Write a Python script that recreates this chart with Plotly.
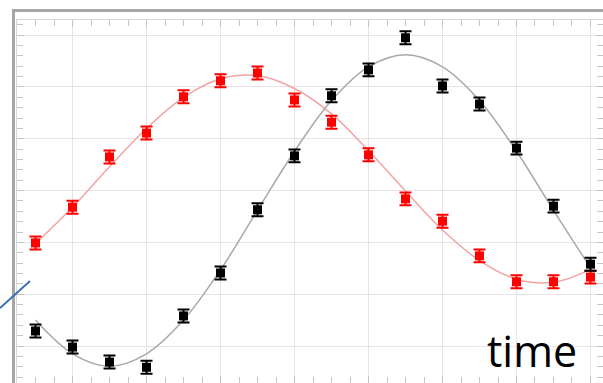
import plotly.graph_objects as go

# ---- data ----
t = list(range(1, 17))
black_vals = [0.29, -0.02, -0.31, -0.41, 0.58, 1.41, 2.63, 3.67, 4.83, 5.33, 5.95, 5.02, 4.67, 3.82, 2.70, 1.58]
red_vals = [1.99, 2.68, 3.65, 4.11, 4.81, 5.12, 5.27, 4.75, 4.32, 3.69, 2.84, 2.41, 1.74, 1.24, 1.24, 1.33]
err = [0.125] * 16
black_fit = [0.50, -0.15, -0.39, -0.15, 0.50, 1.47, 2.62, 3.76, 4.74, 5.39, 5.62, 5.39, 4.74, 3.76, 2.62, 1.51]
red_fit = [1.98, 2.68, 3.46, 4.20, 4.80, 5.16, 5.22, 4.97, 4.48, 3.77, 2.99, 2.24, 1.65, 1.29, 1.23, 1.48]
label = "time"

fig = go.Figure()
fig.add_trace(go.Scatter(x=t, y=red_fit, mode="lines", line=dict(color="#f2a3a3", width=1.5, shape="spline"),
                         hoverinfo="skip", showlegend=False))
fig.add_trace(go.Scatter(x=t, y=black_fit, mode="lines", line=dict(color="#a8a8a8", width=1.5, shape="spline"),
                         hoverinfo="skip", showlegend=False))
fig.add_trace(go.Scatter(x=t, y=red_vals, mode="markers",
                         marker=dict(symbol="square", size=9, color="#ff0000"),
                         error_y=dict(type="data", array=err, color="#ff0000", thickness=2, width=6),
                         showlegend=False))
fig.add_trace(go.Scatter(x=t, y=black_vals, mode="markers",
                         marker=dict(symbol="square", size=9, color="#000000"),
                         error_y=dict(type="data", array=err, color="#000000", thickness=2, width=6),
                         showlegend=False))

axis_common = dict(showgrid=True, gridcolor="#eae2ea", gridwidth=1, zeroline=False,
                   showline=True, linecolor="#d6d6d6", linewidth=1, mirror="ticks",
                   ticks="inside", ticklen=7, tickcolor="#c4c4c4", showticklabels=False)

fig.update_xaxes(range=[0.5, 16.338], dtick=2, tick0=0,
                 minor=dict(dtick=0.5, ticks="inside", ticklen=6, tickcolor="#c4c4c4", showgrid=False),
                 **axis_common)
fig.update_yaxes(range=[-0.714, 6.293], dtick=1, tick0=0,
                 minor=dict(dtick=0.2, ticks="inside", ticklen=6, tickcolor="#c4c4c4", showgrid=False),
                 **axis_common)

W = 586.0
H = 363.0
def px(x):
    return (x - 17) / W
def py(y):
    return (383 - y) / H

fig.add_shape(type="line", xref="paper", yref="paper", x0=px(12), x1=1.05, y0=py(10.5), y1=py(10.5),
              line=dict(color="#a6a6a6", width=3))
fig.add_shape(type="line", xref="paper", yref="paper", x0=px(13.5), x1=px(13.5), y0=py(390), y1=py(9),
              line=dict(color="#a6a6a6", width=3))
fig.add_shape(type="line", xref="paper", yref="paper", x0=px(0), y0=py(308), x1=px(30), y1=py(281),
              line=dict(color="#3a6fb5", width=2))

fig.add_annotation(text=label, xref="paper", yref="paper", x=px(579), y=py(350), xanchor="right", yanchor="middle",
                   showarrow=False, font=dict(family="Open Sans", size=43, color="#000000"))

# full-window figure; the page's default body margin is removed after plotting
fig.update_layout(width=603, height=383, autosize=False,
                  margin=dict(l=17, r=0, t=20, b=0, pad=0),
                  paper_bgcolor="white", plot_bgcolor="white", hovermode=False)

fig.write_html("out.html", config={"displayModeBar": False, "staticPlot": True},
               post_script="document.body.style.margin='0';document.body.style.overflow='hidden';")
